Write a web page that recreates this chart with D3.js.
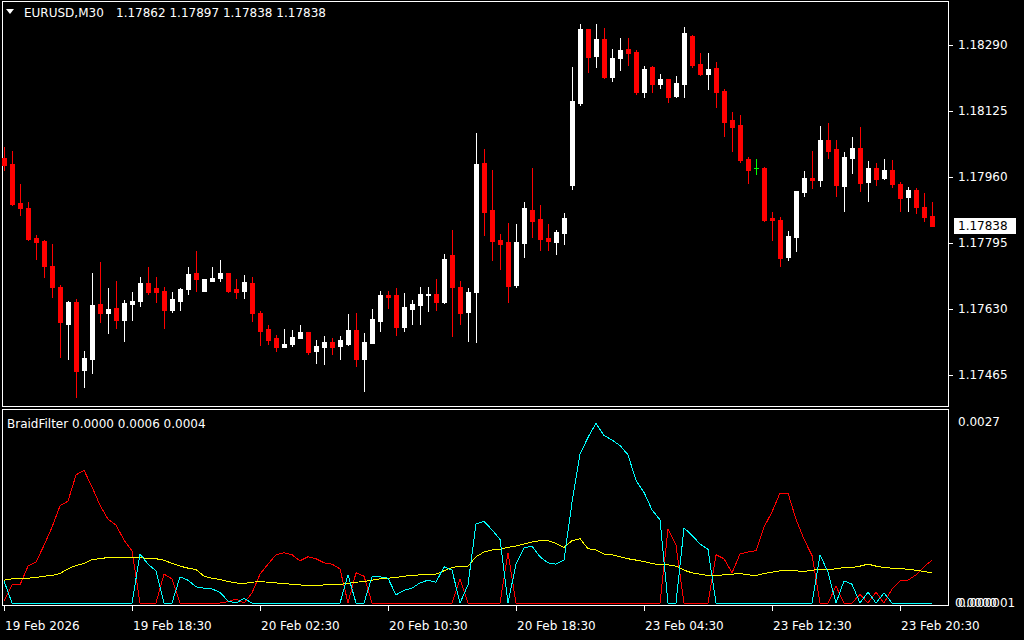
<!DOCTYPE html>
<html><head><meta charset="utf-8">
<script src="https://cdn.jsdelivr.net/npm/d3@7"></script>
<style>
html,body{margin:0;padding:0;background:#000;}
svg{display:block;}
text{font-family:"DejaVu Sans",sans-serif;font-size:12px;white-space:pre;}
</style></head>
<body>
<svg id="c" width="1024" height="640"></svg>
<script>
// ---------- DATA ----------
const symbolName = "EURUSD,M30";
const symbolOHLC = "1.17862 1.17897 1.17838 1.17838";
const indicatorTitle = "BraidFilter 0.0000 0.0006 0.0004";
const timeLabels = ["19 Feb 2026","19 Feb 18:30","20 Feb 02:30","20 Feb 10:30","20 Feb 18:30","23 Feb 04:30","23 Feb 12:30","23 Feb 20:30"];
const timeLabelBars = [0,16,32,48,64,80,96,112];
const priceTicks = [1.18290,1.18125,1.17960,1.17795,1.17630,1.17465];
const lastPrice = 1.17838;
const subTopLabel = "0.0027";
const subBottomLabels = ["0.0000","0.000001"];

const opens = [1.18008,1.17993,1.17895,1.17883,1.17808,1.17800,1.17738,1.17685,1.17593,1.17648,
1.17478,1.17506,1.17643,1.17621,1.17633,1.17603,1.17643,1.17651,1.17695,1.17683,
1.17675,1.17628,1.17651,1.17681,1.17720,1.17676,1.17701,1.17708,1.17720,1.17680,
1.17675,1.17695,1.17620,1.17580,1.17558,1.17535,1.17543,1.17558,1.17573,1.17525,
1.17535,1.17548,1.17538,1.17543,1.17578,1.17505,1.17545,1.17600,1.17665,1.17665,
1.17585,1.17630,1.17640,1.17665,1.17668,1.17648,1.17765,1.17685,1.17623,1.17673,
1.17995,1.17878,1.17803,1.17798,1.17690,1.17796,1.17878,1.17855,1.17808,1.17798,
1.17821,1.17941,1.18146,1.18330,1.18263,1.18305,1.18211,1.18258,1.18280,1.18273,
1.18173,1.18235,1.18193,1.18205,1.18163,1.18193,1.18313,1.18243,1.18218,1.18233,
1.18175,1.18103,1.18090,1.18005,1.17982,1.17983,1.17858,1.17853,1.17760,1.17810,
1.17923,1.17958,1.17953,1.18053,1.18030,1.17938,1.18008,1.18033,1.17948,1.17983,
1.17958,1.17978,1.17943,1.17910,1.17928,1.17885,1.17862];
const highs = [1.18036,1.18025,1.17943,1.17898,1.17815,1.17802,1.17793,1.17690,1.17650,1.17655,
1.17525,1.17719,1.17748,1.17683,1.17700,1.17653,1.17673,1.17710,1.17735,1.17710,
1.17685,1.17673,1.17683,1.17735,1.17775,1.17705,1.17735,1.17753,1.17720,1.17705,
1.17715,1.17710,1.17625,1.17590,1.17565,1.17580,1.17578,1.17590,1.17573,1.17553,
1.17563,1.17558,1.17563,1.17618,1.17620,1.17570,1.17630,1.17675,1.17675,1.17683,
1.17670,1.17653,1.17685,1.17685,1.17705,1.17768,1.17828,1.17700,1.17683,1.18070,
1.18030,1.17978,1.17818,1.17845,1.17843,1.17898,1.17983,1.17890,1.17843,1.17828,
1.17870,1.18235,1.18343,1.18330,1.18343,1.18333,1.18280,1.18308,1.18308,1.18278,
1.18238,1.18238,1.18218,1.18205,1.18213,1.18335,1.18315,1.18270,1.18270,1.18248,
1.18180,1.18123,1.18115,1.18010,1.18005,1.17985,1.17873,1.17860,1.17825,1.17925,
1.17975,1.18025,1.18088,1.18095,1.18053,1.18023,1.18060,1.18085,1.18000,1.17995,
1.18005,1.18003,1.17948,1.17935,1.17933,1.17920,1.17897];
const lows = [1.17978,1.17890,1.17865,1.17803,1.17755,1.17711,1.17661,1.17511,1.17505,1.17411,
1.17436,1.17471,1.17598,1.17571,1.17583,1.17551,1.17603,1.17638,1.17668,1.17648,
1.17583,1.17623,1.17628,1.17668,1.17676,1.17676,1.17701,1.17701,1.17673,1.17658,
1.17658,1.17600,1.17540,1.17543,1.17525,1.17535,1.17538,1.17558,1.17518,1.17495,
1.17493,1.17518,1.17505,1.17540,1.17488,1.17425,1.17545,1.17575,1.17633,1.17565,
1.17575,1.17593,1.17593,1.17625,1.17628,1.17645,1.17563,1.17593,1.17550,1.17548,
1.17815,1.17753,1.17730,1.17648,1.17686,1.17761,1.17811,1.17778,1.17778,1.17768,
1.17793,1.17931,1.18141,1.18223,1.18236,1.18208,1.18201,1.18228,1.18241,1.18168,
1.18161,1.18173,1.18183,1.18148,1.18161,1.18161,1.18236,1.18216,1.18180,1.18135,
1.18063,1.18025,1.17998,1.17945,1.17968,1.17850,1.17803,1.17738,1.17753,1.17775,
1.17913,1.17933,1.17938,1.18008,1.17913,1.17875,1.17970,1.17925,1.17900,1.17940,
1.17955,1.17935,1.17875,1.17875,1.17870,1.17850,1.17838];
const closes = [1.17991,1.17893,1.17883,1.17805,1.17798,1.17738,1.17686,1.17598,1.17648,1.17476,
1.17508,1.17640,1.17621,1.17630,1.17603,1.17645,1.17650,1.17695,1.17673,1.17673,
1.17628,1.17655,1.17680,1.17718,1.17706,1.17705,1.17708,1.17720,1.17676,1.17673,
1.17698,1.17620,1.17575,1.17553,1.17535,1.17543,1.17560,1.17573,1.17523,1.17538,
1.17548,1.17535,1.17553,1.17578,1.17505,1.17548,1.17605,1.17665,1.17660,1.17585,
1.17635,1.17643,1.17668,1.17668,1.17648,1.17755,1.17685,1.17620,1.17673,1.17993,
1.17873,1.17801,1.17793,1.17688,1.17798,1.17883,1.17851,1.17806,1.17801,1.17823,
1.17858,1.18150,1.18330,1.18261,1.18305,1.18211,1.18258,1.18278,1.18271,1.18173,
1.18230,1.18193,1.18205,1.18161,1.18195,1.18320,1.18241,1.18218,1.18230,1.18173,
1.18098,1.18085,1.18003,1.17978,1.17982,1.17853,1.17853,1.17758,1.17813,1.17925,
1.17958,1.17953,1.18053,1.18025,1.17940,1.18010,1.18033,1.17945,1.17983,1.17955,
1.17978,1.17943,1.17908,1.17928,1.17885,1.17860,1.17838];

const braidRed = [0.00003,0.00027,0.00027,0.00055,0.00061,0.00086,0.00113,0.00145,0.00152,0.00191,
0.00198,0.00173,0.00146,0.00125,0.00116,0.00094,0.00078,0,0,0,
0.00043,0.00036,0,0,0,0,0,0,0.00002,0.00006,
0,0.00015,0.00043,0.00058,0.00072,0.00075,0.00072,0.00063,0.00069,0.00066,
0.0006,0.00058,0.00051,0,0.00045,0.0004,0,0,0,0,
0,0,0,0,0,0,0,0.00036,0,0,
0,0,0,0.00075,0,0,0,0,0,0,
0,0,0,0,0,0,0,0,0,0,
0,0,0,0.0011,0.00086,0,0,0,0,0.00072,
0.00066,0.00045,0.00073,0.00076,0.00078,0.00113,0.00136,0.00164,0.00164,0.00125,
0.00095,0.00071,0,0,0.00025,0,0,0.00013,0,0.00016,
0,0.00021,0.00033,0.00034,0.00042,0.00054,0.00064];
const braidCyan = [0.00033,0,0,0,0,0,0,0,0,0,
0,0,0,0,0,0,0,0.00073,0.00058,0.00048,
0,0,0.00039,0.00034,0.00024,0.00022,0.00021,0.00016,0.00003,0,
0.00007,0,0,0,0,0,0,0,0,0,
0,0,0,0.00042,0,0,0.00039,0.00039,0.00037,0.00012,
0.00019,0.00022,0.0003,0.00034,0.00031,0.00054,0.00049,0,0.00027,0.00118,
0.00122,0.00109,0.00095,0,0.00058,0.00082,0.00085,0.00069,0.0006,0.00058,
0.00064,0.0015,0.00222,0.00247,0.00268,0.0025,0.00243,0.00235,0.00221,0.00183,
0.00165,0.00139,0.00124,0,0,0.00112,0.00101,0.00088,0.0008,0,
0,0,0,0,0,0,0,0,0,0,
0,0,0.00072,0.00046,0,0.00033,0.00028,0,0.00016,0,
0.00015,0,0,0,0,0,0];
const braidYellow = [0.00034,0.00036,0.00037,0.00037,0.00038,0.0004,0.00041,0.00044,0.00051,0.00056,
0.00059,0.00065,0.00066,0.00068,0.00068,0.00068,0.00068,0.00068,0.00066,0.00066,
0.00064,0.00059,0.00055,0.00052,0.0005,0.0004,0.00037,0.00035,0.00032,0.0003,
0.00029,0.00031,0.00032,0.00031,0.0003,0.00029,0.00028,0.00027,0.00026,0.00026,
0.00027,0.00027,0.00028,0.00029,0.00031,0.00032,0.00034,0.00036,0.00037,0.00038,
0.0004,0.00041,0.00042,0.00043,0.00043,0.00048,0.00053,0.00055,0.00055,0.00069,
0.00076,0.00079,0.0008,0.00083,0.00085,0.00088,0.00091,0.00093,0.00093,0.00089,
0.00083,0.00093,0.00096,0.00081,0.00079,0.00073,0.00072,0.00069,0.00066,0.00064,
0.00062,0.00059,0.00057,0.00057,0.00055,0.00049,0.00045,0.00043,0.00041,0.00041,
0.00042,0.00043,0.00044,0.00042,0.00041,0.00044,0.00046,0.00048,0.00048,0.00048,
0.00047,0.00049,0.0005,0.0005,0.00051,0.00053,0.00053,0.00055,0.00058,0.00055,
0.00053,0.00052,0.00052,0.0005,0.00049,0.00047,0.00045];

// ---------- DRAW ----------
const svg = d3.select("#c");
svg.append("rect").attr("width",1024).attr("height",640).attr("fill","#000");

const n = opens.length;
const x = d3.scaleLinear().domain([0, n-1]).range([4, 932]);
const y = d3.scaleLinear().domain([priceTicks[5], priceTicks[0]]).range([375, 45]);
const ys = d3.scaleLinear().domain([0, 0.0027]).range([603, 422]);

// panel borders
svg.append("rect").attr("x",2.5).attr("y",1.5).attr("width",946).attr("height",405)
  .attr("fill","none").attr("stroke","#fff").attr("shape-rendering","crispEdges");
svg.append("rect").attr("x",2.5).attr("y",409.5).attr("width",946).attr("height",196)
  .attr("fill","none").attr("stroke","#fff").attr("shape-rendering","crispEdges");

// candles
const bars = d3.range(n).map(i => ({i, o:opens[i], h:highs[i], l:lows[i], c:closes[i]}));
const col = d => d.c > d.o ? "#ffffff" : (d.c < d.o ? "#ff0000" : "#00ff00");
const g = svg.append("g").attr("shape-rendering","crispEdges");
g.selectAll("line.wick").data(bars).join("line").attr("class","wick")
  .attr("x1", d => Math.round(x(d.i))+0.5).attr("x2", d => Math.round(x(d.i))+0.5)
  .attr("y1", d => Math.round(y(d.h))).attr("y2", d => Math.round(y(d.l))+1)
  .attr("stroke", col).attr("stroke-width",1);
g.selectAll("rect.body").data(bars.filter(d => d.c !== d.o)).join("rect").attr("class","body")
  .attr("x", d => Math.round(x(d.i))-2).attr("width",5)
  .attr("y", d => Math.round(y(Math.max(d.o,d.c))))
  .attr("height", d => Math.max(1, Math.round(y(Math.min(d.o,d.c))) - Math.round(y(Math.max(d.o,d.c))) + 1))
  .attr("fill", col);
g.selectAll("line.doji").data(bars.filter(d => d.c === d.o)).join("line").attr("class","doji")
  .attr("x1", d => Math.round(x(d.i))-2).attr("x2", d => Math.round(x(d.i))+3)
  .attr("y1", d => Math.round(y(d.o))+0.5).attr("y2", d => Math.round(y(d.o))+0.5)
  .attr("stroke", col);

// price axis
const pa = svg.append("g");
priceTicks.forEach(p => {
  const yy = Math.round(y(p));
  pa.append("line").attr("x1",949).attr("x2",953).attr("y1",yy+0.5).attr("y2",yy+0.5)
    .attr("stroke","#fff").attr("shape-rendering","crispEdges");
  pa.append("text").attr("x",958).attr("y",yy).attr("dy","0.36em").attr("fill","#fff").text(d3.format(".5f")(p));
});
// current price box
const ly = Math.round(y(lastPrice));
svg.append("rect").attr("x",954).attr("y",ly-8).attr("width",62).attr("height",16).attr("fill","#fff");
svg.append("text").attr("x",958).attr("y",ly).attr("dy","0.36em").attr("fill","#000").text(d3.format(".5f")(lastPrice));

// titles
svg.append("path").attr("d","M6,9 L14,9 L10,14 Z").attr("fill","#fff");
const tt = svg.append("text").attr("x",24).attr("y",13).attr("dy","0.36em").attr("fill","#fff");
tt.append("tspan").text(symbolName);
tt.append("tspan").attr("x",116).text(symbolOHLC);
svg.append("text").attr("x",7).attr("y",424).attr("dy","0.36em").attr("fill","#fff").text(indicatorTitle);

// indicator lines
const line = d3.line().x((d,i) => x(i)).y(d => ys(d));
const lg = svg.append("g").attr("fill","none").attr("stroke-width",1).attr("shape-rendering","crispEdges");
lg.append("path").datum(braidRed).attr("d", line).attr("stroke","#ff0000");
lg.append("path").datum(braidYellow).attr("d", line).attr("stroke","#ffff00");
lg.append("path").datum(braidCyan).attr("d", line).attr("stroke","#00ffff");

// indicator axis labels
svg.append("text").attr("x",958).attr("y",ys(0.0027)).attr("dy","0.36em").attr("fill","#fff").text(subTopLabel);
const zt = svg.append("text").attr("x",955).attr("y",ys(0)).attr("dy","0.36em").attr("fill","#fff");
zt.append("tspan").text(subBottomLabels[0]);
zt.append("tspan").attr("x",958).text(subBottomLabels[1]);

// time axis
const ta = svg.append("g");
timeLabelBars.forEach((b,k) => {
  const xx = Math.round(x(b));
  ta.append("line").attr("x1",xx+0.5).attr("x2",xx+0.5).attr("y1",606).attr("y2",611)
    .attr("stroke","#fff").attr("shape-rendering","crispEdges");
  ta.append("text").attr("x",xx+1).attr("y",626).attr("dy","0.36em").attr("fill","#fff").text(timeLabels[k]);
});
</script>
</body></html>
